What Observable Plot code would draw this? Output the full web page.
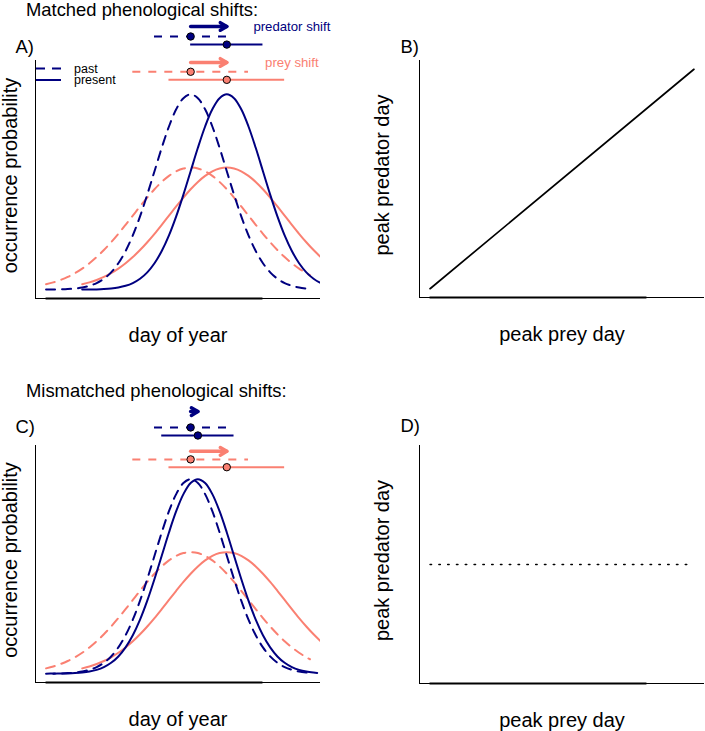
<!DOCTYPE html>
<html><head><meta charset="utf-8">
<script src="https://cdn.jsdelivr.net/npm/d3@7"></script>
<script src="https://cdn.jsdelivr.net/npm/@observablehq/plot@0.6"></script>
<style>
body{margin:0;background:#fff;}
#fig{position:relative;width:705px;height:731px;overflow:hidden;font-family:"Liberation Sans",Arial,Helvetica,sans-serif;}
</style></head><body><div id="fig"></div>
<script>
// ---------- data ----------
const titles = ["Matched phenological shifts:", "Mismatched phenological shifts:"];
const panelLetters = ["A)", "B)", "C)", "D)"];
const species = ["predator", "prey"];
const speciesColors = ["navy", "salmon"];
const legendLabels = ["past", "present"];
const shiftLabels = ["predator shift", "prey shift"];
const shiftLabelDay = 340;

// day offsets relative to the peak and occurrence probability (x 1e-3)
const dayOffsets = [-200,-190,-180,-170,-160,-150,-140,-130,-120,-110,-100,-90,-80,-70,-60,-50,-40,-30,-20,-10,0,10,20,30,40,50,60,70,80,90,100,110,120,130,140,150,160,165];
const predatorOcc = [0.003,0.006,0.012,0.025,0.048,0.089,0.158,0.272,0.448,0.709,1.080,1.579,2.218,2.995,3.884,4.839,5.794,6.665,7.366,7.821,7.979,7.821,7.366,6.665,5.794,4.839,3.884,2.995,2.218,1.579,1.080,0.709,0.448,0.272,0.158,0.089,0.048,0.034];
const preyOcc = [0.219,0.297,0.397,0.522,0.675,0.860,1.079,1.332,1.619,1.938,2.283,2.649,3.025,3.401,3.764,4.102,4.401,4.648,4.834,4.948,4.987,4.948,4.834,4.648,4.401,4.102,3.764,3.401,3.025,2.649,2.283,1.938,1.619,1.332,1.079,0.860,0.675,0.594];
const speciesSD = [50, 80];               // predator, prey (days)

// peak days [predator, prey]
const matchedPast = [200, 200];
const matchedPresent = [250, 250];
const mismatchedPast = [200, 200];
const mismatchedPresent = [210, 250];

// annotation rows (occurrence units): [pred arrow, pred past, pred present, prey arrow, prey past, prey present]
const matchedRows = [10.75, 10.34, 10.01, 9.28, 8.90, 8.57];
const mismatchedRows = [10.75, 10.10, 9.77, 9.12, 8.79, 8.47];

// panels B and D
const bPreyPeak = [0, 365];
const bPredatorPeak = [0, 365];
const dPreyPeak = [0, 365];
const dPredatorPeak = [200, 200];

const yearRange = [0, 365];
const tickRange = [0, 300];
const occLimit = [0, 9];

// ---------- helpers ----------
const FONT = '"Liberation Sans", Arial, Helvetica, sans-serif';
const ext = (r) => { const d = (r[1] - r[0]) * 0.04; return [r[0] - d, r[1] + d]; };
const xDom = ext(yearRange);
const yOcc = ext(occLimit);
const occ = [predatorOcc, preyOcc];

const arrowHead = { draw(ctx) { ctx.moveTo(-6.5, -3.8); ctx.lineTo(0, 0); ctx.lineTo(-6.5, 3.8); } };

function axesMarks(xd, yd) {
  return [
    Plot.ruleX([xd[0]], {stroke: "#000", strokeWidth: 1}),
    Plot.ruleY([yd[0]], {stroke: "#000", strokeWidth: 1}),
    Plot.ruleY([{y: yd[0], a: tickRange[0], b: tickRange[1]}], {y: "y", x1: "a", x2: "b", stroke: "#000", strokeWidth: 1.8})
  ];
}

function occurrencePanel(past, present, rows, letter, withLabels, frame) {
  const marks = [...axesMarks(xDom, yOcc)];
  // curves: prey first, predator on top
  for (const i of [1, 0]) {
    const col = speciesColors[i];
    const pastData = dayOffsets.map((o, k) => ({day: past[i] + o, occ: occ[i][k]}));
    const presData = dayOffsets.map((o, k) => ({day: present[i] + o, occ: occ[i][k]}));
    marks.push(Plot.line(pastData, {x: "day", y: "occ", stroke: col, strokeWidth: 2, strokeDasharray: "9,7", curve: "catmull-rom", clip: true}));
    marks.push(Plot.line(presData, {x: "day", y: "occ", stroke: col, strokeWidth: 2, curve: "catmull-rom", clip: true}));
  }
  for (const i of [0, 1]) {
    const col = speciesColors[i];
    const sd = speciesSD[i];
    const arrow = [{from: past[i], to: present[i], y: rows[i * 3], label: shiftLabels[i]}];
    const pastR = [{lo: past[i] - sd, hi: past[i] + sd, peak: past[i], y: rows[i * 3 + 1]}];
    const presR = [{lo: present[i] - sd, hi: present[i] + sd, peak: present[i], y: rows[i * 3 + 2]}];
    marks.push(Plot.link(arrow, {x1: "from", x2: "to", y1: "y", y2: "y", stroke: col, strokeWidth: 3.5, strokeLinecap: "round"}));
    marks.push(Plot.dot(arrow, {x: "to", y: "y", symbol: arrowHead, r: 4, fill: "none", stroke: col, strokeWidth: 3.5, strokeLinejoin: "round", strokeLinecap: "round"}));
    if (withLabels) marks.push(Plot.text(arrow, {x: shiftLabelDay, y: "y", text: "label", fill: col, fontSize: 13.2, fontFamily: FONT, textAnchor: "middle"}));
    marks.push(Plot.ruleY(pastR, {y: "y", x1: "lo", x2: "hi", stroke: col, strokeWidth: 2, strokeDasharray: "8,8"}));
    marks.push(Plot.ruleY(presR, {y: "y", x1: "lo", x2: "hi", stroke: col, strokeWidth: 2}));
    marks.push(Plot.dot(pastR, {x: "peak", y: "y", r: 3.7, fill: col, stroke: "#000", strokeWidth: 1}));
    marks.push(Plot.dot(presR, {x: "peak", y: "y", r: 3.7, fill: col, stroke: "#000", strokeWidth: 1}));
  }
  marks.push(Plot.text([letter], {text: d => d, frameAnchor: "top-left", dx: -20, dy: frame.letterDy, textAnchor: "start", fontSize: 18.4, fontFamily: FONT}));
  marks.push(Plot.text(["occurrence probability"], {text: d => d, frameAnchor: "left", dx: -25.4, dy: -4, rotate: -90, textAnchor: "middle", lineAnchor: "middle", fontSize: 20, fontFamily: FONT}));
  marks.push(Plot.text(["day of year"], {text: d => d, frameAnchor: "bottom", dy: 37, textAnchor: "middle", lineAnchor: "middle", fontSize: 20, fontFamily: FONT}));
  return Plot.plot({
    width: frame.width, height: frame.height,
    marginLeft: 35, marginRight: 32, marginTop: frame.top, marginBottom: frame.bottom,
    x: {domain: xDom, axis: null},
    y: {domain: yOcc, axis: null},
    style: {fontFamily: FONT, background: "transparent", overflow: "visible"},
    marks
  });
}

function peakPanel(px, py, dotted, letter, frame) {
  const yd = dotted ? ext([py[0] * 0.6, py[0] * 1.4]) : ext(yearRange);
  const data = px.map((v, i) => ({prey: v, pred: py[i]}));
  const marks = [...axesMarks(xDom, yd)];
  marks.push(Plot.line(data, dotted
    ? {x: "prey", y: "pred", stroke: "#000", strokeWidth: 1.5, strokeDasharray: "1.5,7.3"}
    : {x: "prey", y: "pred", stroke: "#000", strokeWidth: 1.7}));
  marks.push(Plot.text([letter], {text: d => d, frameAnchor: "top-left", dx: -19, dy: frame.letterDy, textAnchor: "start", fontSize: 18.4, fontFamily: FONT}));
  marks.push(Plot.text(["peak predator day"], {text: d => d, frameAnchor: "left", dx: -37.4, dy: -4, rotate: -90, textAnchor: "middle", lineAnchor: "middle", fontSize: 20, fontFamily: FONT}));
  marks.push(Plot.text(["peak prey day"], {text: d => d, frameAnchor: "bottom", dy: 37, textAnchor: "middle", lineAnchor: "middle", fontSize: 20, fontFamily: FONT}));
  return Plot.plot({
    width: frame.width, height: frame.height,
    marginLeft: 67, marginRight: 1, marginTop: frame.top, marginBottom: frame.bottom,
    x: {domain: xDom, axis: null},
    y: {domain: yd, axis: null},
    style: {fontFamily: FONT, background: "transparent", overflow: "visible"},
    marks
  });
}

const fig = document.getElementById("fig");
function place(el, left, top) {
  el.style.position = "absolute"; el.style.left = left + "px"; el.style.top = top + "px"; el.style.margin = "0";
  fig.appendChild(el);
}

place(occurrencePanel(matchedPast, matchedPresent, matchedRows, panelLetters[0], true,
  {width: 352, height: 365, top: 60, bottom: 67, letterDy: -20.8}), 0, 0);
place(peakPanel(bPreyPeak, bPredatorPeak, false, panelLetters[1],
  {width: 353, height: 365, top: 60, bottom: 68, letterDy: -20.8}), 352, 0);
place(occurrencePanel(mismatchedPast, mismatchedPresent, mismatchedRows, panelLetters[2], false,
  {width: 352, height: 366, top: 80, bottom: 49, letterDy: -25.8}), 0, 365);
place(peakPanel(dPreyPeak, dPredatorPeak, true, panelLetters[3],
  {width: 353, height: 366, top: 80, bottom: 48, letterDy: -27}), 352, 365);

// ---------- titles and legend (overlay) ----------
const ov = d3.select(fig).append("svg")
  .attr("width", 705).attr("height", 731)
  .style("position", "absolute").style("left", 0).style("top", 0)
  .style("pointer-events", "none").style("font-family", FONT);
ov.append("text").attr("x", 26).attr("y", 16).attr("font-size", 18.4).text(titles[0]);
ov.append("text").attr("x", 26).attr("y", 397).attr("font-size", 18.4).text(titles[1]);
const legY = [68.5, 80];
legendLabels.forEach((lab, i) => {
  ov.append("line").attr("x1", 36).attr("x2", 61).attr("y1", legY[i]).attr("y2", legY[i])
    .attr("stroke", speciesColors[0]).attr("stroke-width", 2)
    .attr("stroke-dasharray", i === 0 ? "9,7" : null);
  ov.append("text").attr("x", 74).attr("y", legY[i]).attr("dy", "0.35em").attr("font-size", 12.5).text(lab);
});
</script></body></html>
